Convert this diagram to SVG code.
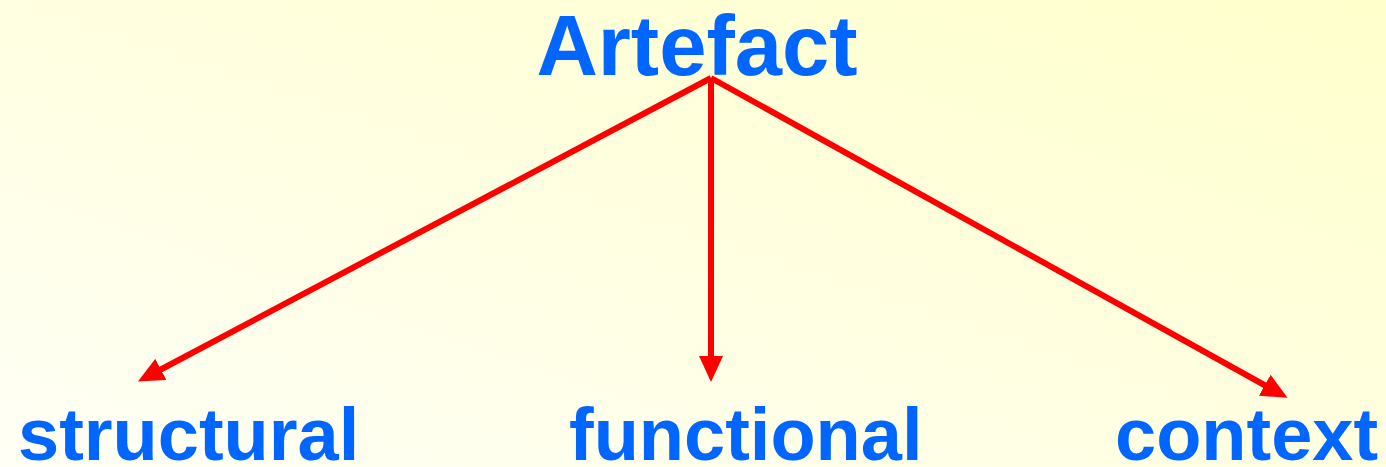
<svg xmlns="http://www.w3.org/2000/svg" width="1386" height="467" viewBox="0 0 1386 467">
<defs>
<linearGradient id="bg" x1="0" y1="1" x2="1" y2="0">
<stop offset="0" stop-color="#FFFFF6"/>
<stop offset="1" stop-color="#FFFFCC"/>
</linearGradient>
<marker id="ah" markerUnits="userSpaceOnUse" markerWidth="26" markerHeight="24" viewBox="0 0 26 24" refX="14" refY="12" orient="auto">
<path d="M0,0 L26,12 L0,24 z" fill="#FF0000"/>
</marker>
<style>
.lbl{font-family:"Liberation Sans",Arial,sans-serif;font-weight:bold;fill:#0066FF}
.edge{stroke:#FF0000;stroke-width:6;fill:none;marker-end:url(#ah)}
</style>
</defs>
<rect width="1386" height="467" fill="url(#bg)"/>
<g id="connectors">
<line class="edge" x1="711" y1="78" x2="148.5" y2="376"/>
<line class="edge" x1="711" y1="78" x2="711" y2="370"/>
<line class="edge" x1="711" y1="78" x2="1277" y2="392"/>
</g>
<g id="artefact"><text class="lbl" x="697" y="75" font-size="85" text-anchor="middle">Artefact</text></g>
<g id="structural"><text class="lbl" x="18" y="460" font-size="74">structural</text></g>
<g id="functional"><text class="lbl" x="569" y="460" font-size="74">functional</text></g>
<g id="context"><text class="lbl" x="1115" y="460" font-size="74">context</text></g>
</svg>
